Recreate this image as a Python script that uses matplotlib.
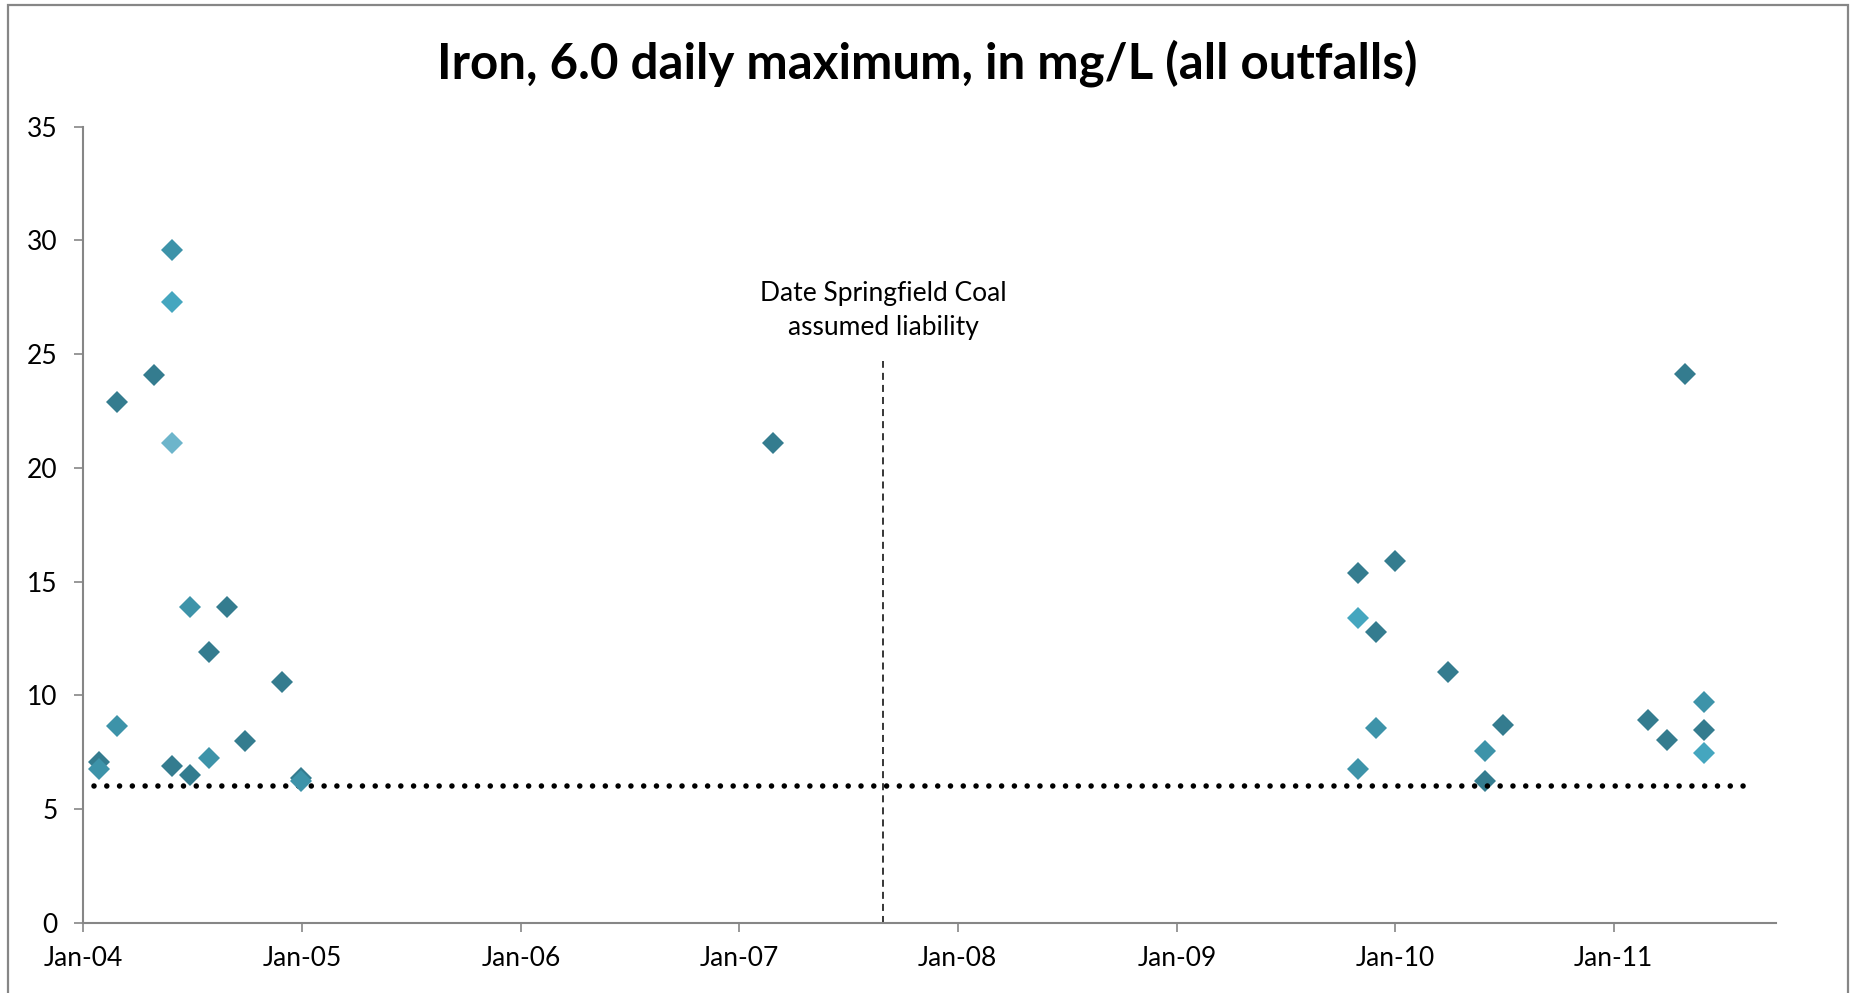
import matplotlib
matplotlib.use('Agg')
import matplotlib.pyplot as plt
import matplotlib.dates as mdates
import pandas as pd
from matplotlib.patches import Rectangle

# outfall readings, one list per marker shade (dark -> light)
dark_dates = ['2004-01-27', '2004-02-26', '2004-04-28', '2004-05-28', '2004-06-27',
              '2004-07-29', '2004-08-28', '2004-09-27', '2004-11-28', '2004-12-30',
              '2007-02-27', '2009-10-30', '2009-11-29', '2009-12-31', '2010-03-30',
              '2010-05-31', '2010-06-30', '2011-02-28', '2011-03-31', '2011-04-30',
              '2011-05-31']
dark_values = [7.08, 22.9, 24.1, 6.9, 6.48, 11.9, 13.89, 8.0, 10.6, 6.35,
               21.1, 15.39, 12.8, 15.9, 11.01, 6.24, 8.68, 8.9, 8.02, 24.11,
               8.47]

medium_dates = ['2004-01-27', '2004-02-26', '2004-05-28', '2004-06-27', '2004-07-29',
                '2004-12-30', '2009-10-30', '2009-11-29', '2010-05-31', '2011-05-31']
medium_values = [6.74, 8.66, 29.58, 13.89, 7.25, 6.23, 6.77, 8.57, 7.55, 9.7]

bright_dates = ['2004-05-28', '2009-10-30', '2011-05-31']
bright_values = [27.3, 13.41, 7.48]

light_dates = ['2004-05-28']
light_values = [21.1]

# 6.0 mg/L daily maximum limit
limit_dates = ['2004-01-19', '2011-08-17']
limit_values = [6.0, 6.0]

liability_date = '2007-08-29'
liability_top = 24.7

x_range = ['2004-01-01', '2011-09-29']
y_ticks = [0, 5, 10, 15, 20, 25, 30, 35]

plt.rcParams['font.family'] = ['Lato', 'DejaVu Sans']

axis_grey = '#868686'


def draw_series(ax, dates, values, color, z):
    ax.plot(pd.to_datetime(dates), values, linestyle='none', marker='D',
            markersize=11, color=color, markeredgewidth=0, zorder=z)


def iron_plot():
    fig = plt.figure(figsize=(18.55, 9.93), dpi=100)
    ax = fig.add_axes([0.0449, 0.0708, 0.9125, 0.8016])

    # series, later ones drawn on top
    draw_series(ax, dark_dates, dark_values, '#347C8F', 3)
    ax.plot(pd.to_datetime(limit_dates), limit_values, color='black',
            linewidth=4.0, linestyle=(0, (0.001, 2.3)),
            dash_capstyle='round', zorder=4)
    draw_series(ax, medium_dates, medium_values, '#3D93A9', 5)
    draw_series(ax, bright_dates, bright_values, '#45A6BF', 6)
    draw_series(ax, light_dates, light_values, '#6DB5CB', 7)

    # liability marker
    ld = pd.to_datetime(liability_date)
    ax.plot([ld, ld], [0, liability_top], color='black', linewidth=1.1,
            linestyle=(0, (4.6, 3.3)), zorder=2)
    ax.text(ld, 26.9, 'Date Springfield Coal\nassumed liability',
            ha='center', va='center', fontsize=19, linespacing=1.45)

    # axes
    ax.set_xlim(pd.to_datetime(x_range[0]), pd.to_datetime(x_range[1]))
    ax.set_ylim(0, 35)
    ax.set_yticks(y_ticks)
    ax.xaxis.set_major_locator(mdates.YearLocator())
    ax.xaxis.set_major_formatter(mdates.DateFormatter('%b-%y'))
    for side in ['top', 'right']:
        ax.spines[side].set_visible(False)
    for side in ['left', 'bottom']:
        ax.spines[side].set_color(axis_grey)
        ax.spines[side].set_linewidth(1.5)
    ax.tick_params(axis='both', direction='out', length=6.5, width=1.2,
                   color=axis_grey, labelsize=19, labelcolor='black')
    ax.tick_params(axis='y', pad=12)
    ax.tick_params(axis='x', pad=10)

    fig.text(0.5, 0.9214, 'Iron, 6.0 daily maximum, in mg/L (all outfalls)',
             ha='center', va='baseline', fontsize=35.5, fontweight='bold')

    # chart frame
    fig.patches.append(Rectangle((0.0043, -0.05), 0.9919, 1.045, fill=False,
                                 edgecolor=axis_grey, linewidth=1.6,
                                 transform=fig.transFigure, figure=fig))

    plt.savefig('out.png', dpi=100)


if __name__ == "__main__":
    iron_plot()
